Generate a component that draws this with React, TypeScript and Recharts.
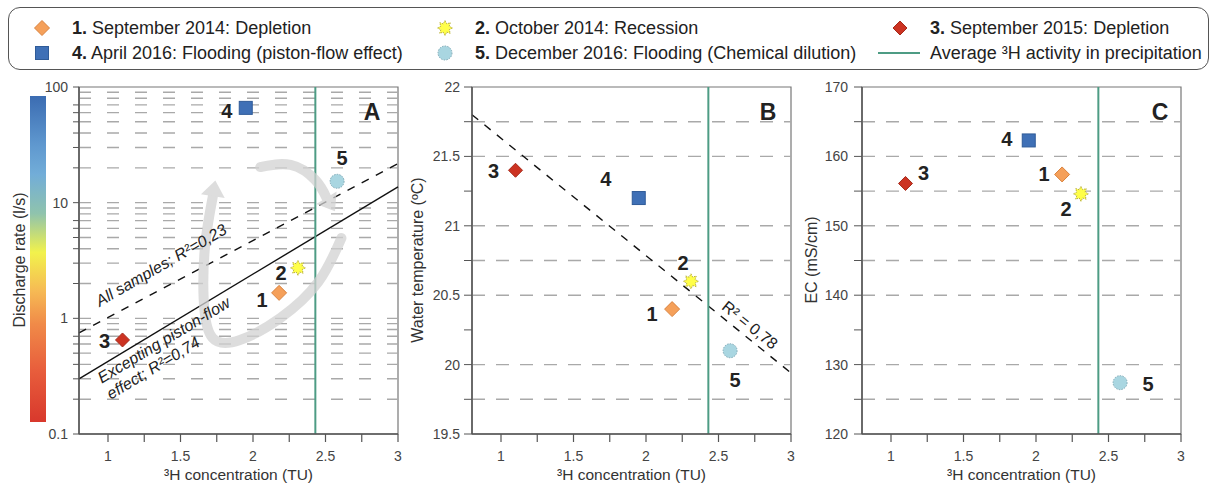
import React from "react";
import {
  ScatterChart,
  Scatter,
  XAxis,
  YAxis,
  ReferenceLine,
  ReferenceArea,
  ReferenceDot,
  Curve,
} from "recharts";

// samples 1..5
const SAMPLE_IDS = [1, 2, 3, 4, 5];
const TRITIUM = [2.18, 2.31, 1.1, 1.95, 2.58];
const DISCHARGE = [1.66, 2.73, 0.65, 66, 15.3];
const WATER_TEMP = [20.4, 20.6, 21.4, 21.2, 20.1];
const EC = [157.4, 154.6, 156.1, 162.3, 127.4];
const PRECIP_AVG_3H = 2.43;

const LEGEND_NUMS = ["1.", "2.", "3.", "4.", "5."];
const LEGEND_TEXTS = [
  "September 2014: Depletion",
  "October 2014: Recession",
  "September 2015: Depletion",
  "April 2016: Flooding (piston-flow effect)",
  "December 2016: Flooding (Chemical dilution)",
];
const LEGEND_AVG = "Average ³H activity in precipitation";

const X_DOMAIN: [number, number] = [0.8, 3];
const X_TICKS = [1, 1.25, 1.5, 1.75, 2, 2.25, 2.5, 2.75, 3];
const X_LABELED = [1, 1.5, 2, 2.5, 3];

const Q_DOMAIN: [number, number] = [0.1, 100];
const Q_TICKS = [
  0.1, 0.2, 0.3, 0.4, 0.5, 0.6, 0.7, 0.8, 0.9, 1, 2, 3, 4, 5, 6, 7, 8, 9, 10,
  20, 30, 40, 50, 60, 70, 80, 90, 100,
];
const Q_LABELED = [0.1, 1, 10, 100];
const Q_GRID = [
  0.2, 0.3, 0.4, 0.5, 0.6, 0.7, 0.8, 0.9, 1, 2, 3, 4, 5, 6, 7, 8, 9, 10, 20,
  30, 40, 50, 60, 70, 80, 90,
];

const T_DOMAIN: [number, number] = [19.5, 22];
const T_TICKS = [19.5, 19.75, 20, 20.25, 20.5, 20.75, 21, 21.25, 21.5, 21.75, 22];
const T_LABELED = [19.5, 20, 20.5, 21, 21.5, 22];
const T_GRID = [19.75, 20, 20.5, 20.75, 21, 21.5, 21.75];

const EC_DOMAIN: [number, number] = [120, 170];
const EC_TICKS = [120, 125, 130, 135, 140, 145, 150, 155, 160, 165, 170];
const EC_LABELED = [120, 130, 140, 150, 160, 170];
const EC_GRID = [125, 130, 140, 145, 150, 155, 160, 165];

// regression lines (end points)
const TREND_ALL_X = [0.8, 3];
const TREND_ALL_Q = [0.75, 21.8];
const TREND_EXCL_X = [0.8, 3];
const TREND_EXCL_Q = [0.3, 13.7];
const TREND_T_X = [0.8, 3];
const TREND_T_Y = [21.8, 19.94];

// grey hysteresis arrows in panel A
const LOOP_ARC_X = [2.61, 2.45, 2.19, 1.91, 1.72, 1.66, 1.67, 1.73];
const LOOP_ARC_Q = [4.95, 2.06, 1.01, 0.65, 0.68, 1.44, 4.3, 12.9];
const RETURN_ARC_X = [2.05, 2.26, 2.43, 2.53];
const RETURN_ARC_Q = [20.3, 21.2, 15.7, 9.9];

const FONT = '"Liberation Sans", Arial, sans-serif';
const AXIS_COLOR = "#555";
const GRID_COLOR = "#a9a9a9";
const GREEN = "#4d9c84";
const COLORS = ["#f5a05a", "#ffff48", "#cc3322", "#3f70b6", "#a9d6e1"];
const STROKES = ["#d9823e", "#b9b040", "#a52a1a", "#2f5b98", "#7fa9b6"];

const toPoints = (xs: number[], ys: number[]) =>
  xs.map((x, i) => ({ x, y: ys[i] }));

const samples = (ys: number[]) =>
  SAMPLE_IDS.map((id, i) => ({ id, x: TRITIUM[i], y: ys[i] }));

function starPoints(cx: number, cy: number, ro: number, ri: number, n = 8) {
  const pts: string[] = [];
  for (let i = 0; i < n * 2; i++) {
    const r = i % 2 === 0 ? ro : ri;
    const a = (Math.PI * i) / n - Math.PI / 2;
    pts.push(`${cx + r * Math.cos(a)},${cy + r * Math.sin(a)}`);
  }
  return pts.join(" ");
}

function Marker({ id, cx, cy }: { id: number; cx: number; cy: number }) {
  const fill = COLORS[id - 1];
  const stroke = STROKES[id - 1];
  if (id === 1 || id === 3) {
    const r = id === 1 ? 7.5 : 7;
    return (
      <polygon
        points={`${cx},${cy - r} ${cx + r},${cy} ${cx},${cy + r} ${cx - r},${cy}`}
        fill={fill}
        stroke={stroke}
        strokeWidth={1}
      />
    );
  }
  if (id === 2) {
    return (
      <polygon
        points={starPoints(cx, cy, 7.5, 4.5)}
        fill={fill}
        stroke={stroke}
        strokeWidth={1}
        strokeDasharray="1.5 1"
      />
    );
  }
  if (id === 4) {
    return (
      <rect x={cx - 6.5} y={cy - 6.5} width={13} height={13} fill={fill} stroke={stroke} />
    );
  }
  return (
    <circle cx={cx} cy={cy} r={7} fill={fill} stroke={stroke} strokeDasharray="1.5 1.2" />
  );
}

const sampleShape = (offsets: number[][]) => (props: any) => {
  const { cx, cy, payload } = props;
  const [dx, dy] = offsets[payload.id - 1];
  return (
    <g>
      <Marker id={payload.id} cx={cx} cy={cy} />
      <text
        x={cx + dx}
        y={cy + dy}
        textAnchor="middle"
        dominantBaseline="central"
        fontFamily={FONT}
        fontWeight="bold"
        fontSize={20}
        fill="#222"
      >
        {payload.id}
      </text>
    </g>
  );
};

// label offsets (px) from each marker, per panel
const LABEL_OFF_A = [[-17, 7], [-17, 5], [-18, 1], [-19, 3], [5, -23]];
const LABEL_OFF_B = [[-20, 5], [-8, -18], [-22, 1], [-33, -19], [5, 29]];
const LABEL_OFF_C = [[-18, 0], [-15, 15], [18, -10], [-22, -1], [28, 1]];

const arcLine = (p: any) => {
  const pts = p.points || [];
  if (pts.length < 2) return <g />;
  const a = pts[pts.length - 2];
  const b = pts[pts.length - 1];
  const ang = Math.atan2(b.y - a.y, b.x - a.x);
  const len = 16;
  const half = 12;
  const tip = { x: b.x + Math.cos(ang) * len * 0.6, y: b.y + Math.sin(ang) * len * 0.6 };
  const base = { x: b.x - Math.cos(ang) * len * 0.4, y: b.y - Math.sin(ang) * len * 0.4 };
  const l = { x: base.x - Math.sin(ang) * half, y: base.y + Math.cos(ang) * half };
  const r = { x: base.x + Math.sin(ang) * half, y: base.y - Math.cos(ang) * half };
  return (
    <g opacity={0.75}>
      <Curve
        type="natural"
        points={pts.slice(0, -1).concat([base])}
        fill="none"
        stroke="#d2d2d2"
        strokeWidth={10}
        strokeLinecap="round"
      />
      <polygon
        points={`${tip.x},${tip.y} ${l.x},${l.y} ${r.x},${r.y}`}
        fill="#d2d2d2"
      />
    </g>
  );
};

const rotatedText =
  (label: string, angle: number, italic: boolean, anchor: "start" | "middle") =>
  (p: any) =>
    (
      <text
        x={p.cx}
        y={p.cy}
        transform={`rotate(${angle} ${p.cx} ${p.cy})`}
        textAnchor={anchor}
        dominantBaseline="central"
        fontFamily={FONT}
        fontSize={16}
        fontStyle={italic ? "italic" : "normal"}
        fill="#222"
      >
        {label}
      </text>
    );

const xTickFmt = (v: number) => (X_LABELED.includes(v) ? String(v) : "");
const tickStyle = { fontSize: 14, fill: "#444", fontFamily: FONT };

const CHART_TOP = 75;
const CHART_H = 411;
const MARGIN_TOP = 12;
const MARGIN_BOTTOM = 22;
const X_AXIS_H = 30;

function xAxis() {
  return (
    <XAxis
      type="number"
      dataKey="x"
      domain={X_DOMAIN}
      ticks={X_TICKS}
      allowDataOverflow
      tickFormatter={xTickFmt}
      tick={tickStyle}
      tickSize={8}
      tickMargin={9}
      height={X_AXIS_H}
      axisLine={{ stroke: AXIS_COLOR, strokeWidth: 1.5 }}
      tickLine={{ stroke: AXIS_COLOR, strokeWidth: 1.2 }}
    />
  );
}

function frame(y1: number, y2: number) {
  return (
    <ReferenceArea
      x1={X_DOMAIN[0]}
      x2={X_DOMAIN[1]}
      y1={y1}
      y2={y2}
      fill="none"
      stroke="#777"
      strokeWidth={1.2}
      ifOverflow="visible"
    />
  );
}

function gridLines(values: number[], dash: string) {
  return values.map((v) => (
    <ReferenceLine
      key={`g${v}`}
      y={v}
      stroke={GRID_COLOR}
      strokeWidth={1.4}
      strokeDasharray={dash}
    />
  ));
}

function PanelA() {
  return (
    <ScatterChart
      width={410}
      height={CHART_H}
      margin={{ top: MARGIN_TOP, right: 12, bottom: MARGIN_BOTTOM, left: 0 }}
    >
      {xAxis()}
      <YAxis
        type="number"
        dataKey="y"
        scale="log"
        domain={Q_DOMAIN}
        ticks={Q_TICKS}
        allowDataOverflow
        tickFormatter={(v: number) => (Q_LABELED.includes(v) ? String(v) : "")}
        tick={tickStyle}
        tickSize={6}
        tickMargin={5}
        width={79}
        axisLine={{ stroke: AXIS_COLOR, strokeWidth: 1.5 }}
        tickLine={{ stroke: AXIS_COLOR }}
      />
      {gridLines(Q_GRID, "12 16")}
      <Scatter
        data={toPoints(LOOP_ARC_X, LOOP_ARC_Q)}
        shape={() => <g />}
        line={arcLine}
        isAnimationActive={false}
      />
      <Scatter
        data={toPoints(RETURN_ARC_X, RETURN_ARC_Q)}
        shape={() => <g />}
        line={arcLine}
        isAnimationActive={false}
      />
      <ReferenceLine
        segment={toPoints(TREND_ALL_X, TREND_ALL_Q)}
        stroke="#111"
        strokeWidth={1.4}
        strokeDasharray="8 8"
      />
      <ReferenceLine
        segment={toPoints(TREND_EXCL_X, TREND_EXCL_Q)}
        stroke="#111"
        strokeWidth={1.4}
      />
      <ReferenceLine x={PRECIP_AVG_3H} stroke={GREEN} strokeWidth={2} />
      {frame(Q_DOMAIN[0], Q_DOMAIN[1])}
      <ReferenceDot
        x={0.924}
        y={1.38}
        r={0}
        shape={rotatedText("All samples; R²=0,23", -30, true, "start")}
      />
      <ReferenceDot
        x={0.938}
        y={0.299}
        r={0}
        shape={rotatedText("Excepting piston-flow", -31, true, "start")}
      />
      <ReferenceDot
        x={1.0}
        y={0.217}
        r={0}
        shape={rotatedText("effect; R²=0,74", -31, true, "start")}
      />
      <Scatter
        data={samples(DISCHARGE)}
        shape={sampleShape(LABEL_OFF_A)}
        isAnimationActive={false}
      />
    </ScatterChart>
  );
}

function PanelB() {
  return (
    <ScatterChart
      width={400}
      height={CHART_H}
      margin={{ top: MARGIN_TOP, right: 19, bottom: MARGIN_BOTTOM, left: 0 }}
    >
      {xAxis()}
      <YAxis
        type="number"
        dataKey="y"
        domain={T_DOMAIN}
        ticks={T_TICKS}
        allowDataOverflow
        tickFormatter={(v: number) => (T_LABELED.includes(v) ? String(v) : "")}
        tick={tickStyle}
        tickSize={8}
        tickMargin={4}
        width={62}
        axisLine={{ stroke: AXIS_COLOR, strokeWidth: 1.5 }}
        tickLine={{ stroke: AXIS_COLOR }}
      />
      {gridLines(T_GRID, "13 11")}
      <ReferenceLine
        segment={toPoints(TREND_T_X, TREND_T_Y)}
        stroke="#111"
        strokeWidth={1.4}
        strokeDasharray="8 8"
      />
      <ReferenceLine x={PRECIP_AVG_3H} stroke={GREEN} strokeWidth={2} />
      {frame(T_DOMAIN[0], T_DOMAIN[1])}
      <ReferenceDot
        x={2.717}
        y={20.285}
        r={0}
        shape={rotatedText("R² = 0,78", 39, false, "middle")}
      />
      <Scatter
        data={samples(WATER_TEMP)}
        shape={sampleShape(LABEL_OFF_B)}
        isAnimationActive={false}
      />
    </ScatterChart>
  );
}

function PanelC() {
  return (
    <ScatterChart
      width={403}
      height={CHART_H}
      margin={{ top: MARGIN_TOP, right: 32, bottom: MARGIN_BOTTOM, left: 0 }}
    >
      {xAxis()}
      <YAxis
        type="number"
        dataKey="y"
        domain={EC_DOMAIN}
        ticks={EC_TICKS}
        allowDataOverflow
        tickFormatter={(v: number) => (EC_LABELED.includes(v) ? String(v) : "")}
        tick={tickStyle}
        tickSize={8}
        tickMargin={6}
        width={52}
        axisLine={{ stroke: AXIS_COLOR, strokeWidth: 1.5 }}
        tickLine={{ stroke: AXIS_COLOR }}
      />
      {gridLines(EC_GRID, "13 11")}
      <ReferenceLine x={PRECIP_AVG_3H} stroke={GREEN} strokeWidth={2} />
      {frame(EC_DOMAIN[0], EC_DOMAIN[1])}
      <Scatter
        data={samples(EC)}
        shape={sampleShape(LABEL_OFF_C)}
        isAnimationActive={false}
      />
    </ScatterChart>
  );
}

const abs = (left: number, top: number): React.CSSProperties => ({
  position: "absolute",
  left,
  top,
});

function Legend() {
  const colX = [42, 445, 900];
  const textX = [72, 475, 930];
  const rowY = [28, 53];
  const items = SAMPLE_IDS.map((id, i) => ({
    id,
    col: i % 3,
    row: Math.floor(i / 3),
  }));
  return (
    <div>
      <div
        style={{
          ...abs(8, 7),
          width: 1201,
          height: 63,
          border: "1.5px solid #555",
          borderRadius: 12,
          boxSizing: "border-box",
        }}
      />
      <svg width={1213} height={75} style={abs(0, 0)}>
        {items.map((it) => (
          <Marker key={it.id} id={it.id} cx={colX[it.col]} cy={rowY[it.row]} />
        ))}
        <line x1={878} x2={920} y1={rowY[1]} y2={rowY[1]} stroke={GREEN} strokeWidth={2} />
      </svg>
      {items.map((it, i) => (
        <div
          key={`t${it.id}`}
          style={{
            ...abs(textX[it.col], rowY[it.row] - 11),
            fontSize: 18,
            lineHeight: "22px",
            whiteSpace: "nowrap",
            color: "#222",
          }}
        >
          <b>{LEGEND_NUMS[i]}</b> {LEGEND_TEXTS[i]}
        </div>
      ))}
      <div
        style={{
          ...abs(textX[2], rowY[1] - 11),
          fontSize: 18,
          lineHeight: "22px",
          whiteSpace: "nowrap",
          color: "#222",
        }}
      >
        {LEGEND_AVG}
      </div>
    </div>
  );
}

function VTitle({ x, text }: { x: number; text: string }) {
  return (
    <div
      style={{
        position: "absolute",
        left: x - 150,
        top: 260 - 10,
        width: 300,
        height: 20,
        lineHeight: "20px",
        textAlign: "center",
        transform: "rotate(-90deg)",
        fontSize: 16,
        color: "#333",
        whiteSpace: "nowrap",
      }}
    >
      {text}
    </div>
  );
}

function XTitle({ cx }: { cx: number }) {
  return (
    <div
      style={{
        position: "absolute",
        left: cx - 120,
        top: 465,
        width: 240,
        lineHeight: "20px",
        textAlign: "center",
        fontSize: 15.5,
        color: "#333",
      }}
    >
      ³H concentration (TU)
    </div>
  );
}

function Letter({ cx, text }: { cx: number; text: string }) {
  return (
    <div
      style={{
        position: "absolute",
        left: cx - 20,
        top: 99,
        width: 40,
        textAlign: "center",
        fontSize: 23,
        lineHeight: "26px",
        fontWeight: "bold",
        color: "#222",
      }}
    >
      {text}
    </div>
  );
}

export default function App() {
  return (
    <div
      style={{
        position: "absolute",
        left: 0,
        top: 0,
        width: 1213,
        height: 486,
        background: "#fff",
        fontFamily: FONT,
        overflow: "hidden",
      }}
    >
      <Legend />
      <div style={abs(0, CHART_TOP)}>
        <PanelA />
      </div>
      <div style={abs(410, CHART_TOP)}>
        <PanelB />
      </div>
      <div style={abs(810, CHART_TOP)}>
        <PanelC />
      </div>
      <div
        style={{
          ...abs(30, 96),
          width: 16,
          height: 326,
          background:
            "linear-gradient(to bottom, #3b6cb2 0%, #5f98cf 15%, #72add8 24%, #8fc3ad 36%, #f2f24c 48%, #f6b954 60%, #f08a48 70%, #e85e3c 84%, #d8382c 100%)",
        }}
      />
      <VTitle x={20} text="Discharge rate (l/s)" />
      <VTitle x={418} text="Water temperature (ºC)" />
      <VTitle x={812} text="EC (mS/cm)" />
      <XTitle cx={238.5} />
      <XTitle cx={631.5} />
      <XTitle cx={1021.5} />
      <Letter cx={372} text="A" />
      <Letter cx={768} text="B" />
      <Letter cx={1160} text="C" />
    </div>
  );
}
